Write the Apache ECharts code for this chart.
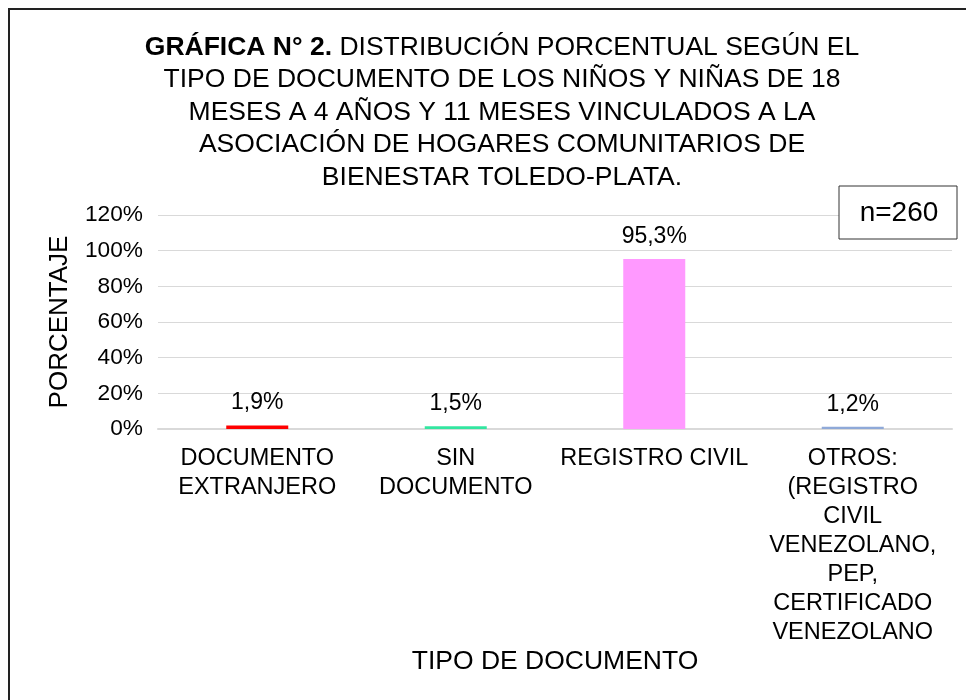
<!DOCTYPE html>
<html>
<head>
<meta charset="utf-8">
<script src="https://cdn.jsdelivr.net/npm/echarts@6/dist/echarts.min.js"></script>
<style>
  html, body { margin: 0; padding: 0; background: #fff; }
  #chart { width: 966px; height: 700px; }
</style>
</head>
<body>
<div id="chart"></div>
<script>
var categories = [
  'DOCUMENTO\nEXTRANJERO',
  'SIN\nDOCUMENTO',
  'REGISTRO CIVIL',
  'OTROS:\n(REGISTRO\nCIVIL\nVENEZOLANO,\nPEP,\nCERTIFICADO\nVENEZOLANO'
];
var values = [1.9, 1.5, 95.3, 1.2];
var barColors = ['#ff0000', '#33e6a0', '#ff99ff', '#8fa9d8'];
var yTicks = [0, 20, 40, 60, 80, 100, 120];

var myChart = echarts.init(document.getElementById('chart'));

var font = 'Liberation Sans, Arial, sans-serif';

var option = {
  backgroundColor: '#fff',
  animation: false,
  textStyle: { fontFamily: font },
  title: {
    text: '{b|GRÁFICA N° 2.} DISTRIBUCIÓN PORCENTUAL SEGÚN EL\n' +
      'TIPO DE DOCUMENTO DE LOS NIÑOS Y NIÑAS DE 18\n' +
      'MESES A 4 AÑOS Y 11 MESES VINCULADOS A LA\n' +
      'ASOCIACIÓN DE HOGARES COMUNITARIOS DE\n' +
      'BIENESTAR TOLEDO-PLATA.',
    left: 497,
    top: 26,
    textAlign: 'center',
    textStyle: {
      fontFamily: font,
      fontSize: 26.5,
      fontWeight: 'normal',
      color: '#000',
      lineHeight: 32.5,
      rich: {
        b: { fontFamily: font, fontSize: 26.5, fontWeight: 'bold', color: '#000', lineHeight: 32.5 }
      }
    }
  },
  graphic: [
    {
      type: 'rect',
      shape: { x: 9, y: 9, width: 1000, height: 800 },
      style: { fill: 'none', stroke: '#222', lineWidth: 2 },
      silent: true
    },
    {
      type: 'rect',
      shape: { x: 839, y: 186, width: 118, height: 53 },
      style: { fill: '#fff', stroke: '#333', lineWidth: 1 },
      z: 10
    },
    {
      type: 'text',
      x: 899,
      y: 213,
      style: {
        text: 'n=260',
        font: '28px ' + font,
        fill: '#000',
        align: 'center',
        verticalAlign: 'middle'
      },
      z: 11
    }
  ],
  grid: {
    left: 158,
    right: 14,
    top: 215,
    bottom: 271
  },
  xAxis: {
    type: 'category',
    data: categories,
    name: 'TIPO DE DOCUMENTO',
    nameLocation: 'middle',
    nameGap: 218,
    nameTextStyle: { fontFamily: font, fontSize: 26.5, color: '#000' },
    axisLine: { show: true, lineStyle: { color: '#d9d9d9', width: 2 } },
    axisTick: { show: false },
    axisLabel: {
      interval: 0,
      margin: 15,
      fontFamily: font,
      fontSize: 23.5,
      lineHeight: 29,
      color: '#000'
    }
  },
  yAxis: {
    type: 'value',
    min: 0,
    max: 120,
    interval: 20,
    name: 'PORCENTAJE',
    nameLocation: 'middle',
    nameGap: 85,
    nameTextStyle: { fontFamily: font, fontSize: 26, color: '#000' },
    axisLine: { show: false },
    axisTick: { show: false },
    splitLine: { lineStyle: { color: '#d9d9d9', width: 1 } },
    axisLabel: {
      margin: 15,
      fontFamily: font,
      fontSize: 22.7,
      color: '#000',
      formatter: function (v) {
        return yTicks.indexOf(v) >= 0 ? v + '%' : '';
      }
    }
  },
  series: [{
    type: 'bar',
    barWidth: 62,
    data: values.map(function (v, i) {
      return { value: v, itemStyle: { color: barColors[i] } };
    }),
    label: {
      show: true,
      position: 'top',
      distance: 11,
      fontFamily: font,
      fontSize: 23,
      color: '#000',
      formatter: function (p) {
        return String(p.value).replace('.', ',') + '%';
      }
    }
  }]
};

myChart.setOption(option);
window.addEventListener('resize', myChart.resize);
</script>
</body>
</html>
